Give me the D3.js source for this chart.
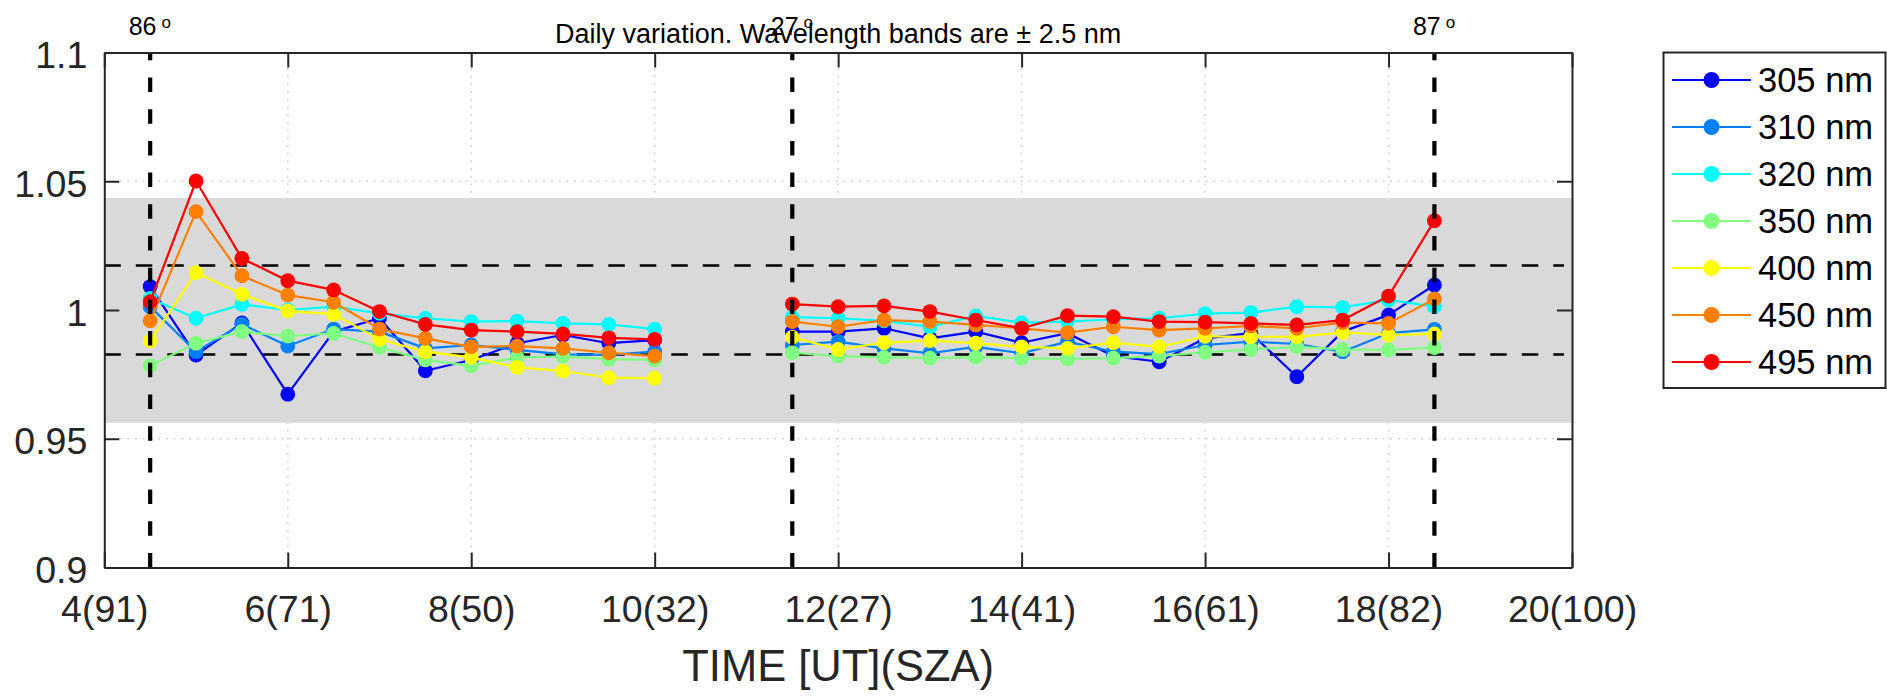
<!DOCTYPE html>
<html>
<head>
<meta charset="utf-8">
<script src="https://cdn.jsdelivr.net/npm/d3@7/dist/d3.min.js"></script>
<style>
  html, body { margin: 0; padding: 0; background: #fff; }
  svg { display: block; }
  text { font-family: "Liberation Sans", Arial, Helvetica, sans-serif; }
</style>
</head>
<body>
<svg id="chart" width="1887" height="700"></svg>
<script>
// ---------- data ----------
const times = [4.5, 5, 5.5, 6, 6.5, 7, 7.5, 8, 8.5, 9, 9.5, 10,
               11.5, 12, 12.5, 13, 13.5, 14, 14.5, 15, 15.5, 16, 16.5, 17, 17.5, 18, 18.5];

const seriesNames = ["305 nm", "310 nm", "320 nm", "350 nm", "400 nm", "450 nm", "495 nm"];
const seriesColors = ["#0000ff", "#0080ff", "#00ffff", "#80ff80", "#ffff00", "#ff8000", "#ff0000"];

const v305 = [1.0091, 0.9825, 0.9950, 0.9673, 0.9916, 0.9968, 0.9764, 0.9806, 0.9871, 0.9903, 0.9871, 0.9883,
              0.9916, 0.9916, 0.9929, 0.9890, 0.9916, 0.9873, 0.9910, 0.9821, 0.9799, 0.9890, 0.9910, 0.9741, 0.9916, 0.9981, 1.0097];
const v310 = [1.0013, 0.9838, 0.9945, 0.9860, 0.9926, 0.9916, 0.9851, 0.9864, 0.9845, 0.9828, 0.9826, 0.9838,
              0.9864, 0.9877, 0.9851, 0.9832, 0.9857, 0.9832, 0.9877, 0.9838, 0.9829, 0.9864, 0.9877, 0.9868, 0.9838, 0.9910, 0.9925];
const v320 = [1.0045, 0.9968, 1.0022, 1.0000, 1.0013, 0.9987, 0.9968, 0.9955, 0.9957, 0.9948, 0.9944, 0.9926,
              0.9972, 0.9968, 0.9958, 0.9935, 0.9977, 0.9951, 0.9955, 0.9964, 0.9968, 0.9986, 0.9990, 1.0013, 1.0010, 1.0039, 1.0013];
const v350 = [0.9784, 0.9871, 0.9916, 0.9899, 0.9909, 0.9855, 0.9806, 0.9783, 0.9816, 0.9819, 0.9809, 0.9806,
              0.9834, 0.9821, 0.9816, 0.9813, 0.9816, 0.9813, 0.9810, 0.9813, 0.9821, 0.9836, 0.9847, 0.9857, 0.9847, 0.9845, 0.9854];
const v400 = [0.9880, 1.0145, 1.0061, 0.9996, 0.9984, 0.9886, 0.9838, 0.9816, 0.9777, 0.9763, 0.9737, 0.9735,
              0.9894, 0.9847, 0.9873, 0.9881, 0.9871, 0.9857, 0.9851, 0.9873, 0.9857, 0.9898, 0.9896, 0.9896, 0.9913, 0.9903, 0.9907];
const v450 = [0.9958, 1.0382, 1.0133, 1.0058, 1.0030, 0.9926, 0.9890, 0.9857, 0.9860, 0.9851, 0.9834, 0.9821,
              0.9955, 0.9935, 0.9961, 0.9955, 0.9942, 0.9929, 0.9912, 0.9935, 0.9922, 0.9929, 0.9938, 0.9929, 0.9951, 0.9948, 1.0043];
const v495 = [1.0032, 1.0501, 1.0200, 1.0114, 1.0078, 0.9994, 0.9944, 0.9922, 0.9916, 0.9907, 0.9892, 0.9886,
              1.0023, 1.0013, 1.0016, 0.9994, 0.9961, 0.9929, 0.9978, 0.9974, 0.9955, 0.9953, 0.9948, 0.9942, 0.9961, 1.0054, 1.0347];
const seriesValues = [v305, v310, v320, v350, v400, v450, v495];

const xTickValues = [4, 6, 8, 10, 12, 14, 16, 18, 20];
const xTickLabels = ["4(91)", "6(71)", "8(50)", "10(32)", "12(27)", "14(41)", "16(61)", "18(82)", "20(100)"];
const yTickValues = [0.9, 0.95, 1, 1.05, 1.1];
const yTickLabels = ["0.9", "0.95", "1", "1.05", "1.1"];

const szaLineTimes = [4.5, 11.5, 18.5];
const szaLineLabels = ["86", "27", "87"];
const refLines = [1.0173, 0.9827];
const bandRange = [0.9562, 1.0435];

const titleText = "Daily variation. Wavelength bands are \u00b1 2.5 nm";
const xAxisTitle = "TIME [UT](SZA)";

// ---------- layout ----------
const svg = d3.select("#chart");
const L = 104.3, R = 1572, T = 52.5, B = 567.5;
const x = d3.scaleLinear().domain([4, 20]).range([L, R]);
const y = d3.scaleLinear().domain([0.9, 1.1]).range([B, T]);
const axisColor = "#262626";

// grid
const grid = svg.append("g");
grid.selectAll("line.gx").data(xTickValues.slice(1, -1)).enter().append("line")
  .attr("x1", d => x(d)).attr("x2", d => x(d)).attr("y1", T).attr("y2", B)
  .attr("stroke", "#d2d2d2").attr("stroke-width", 1.5).attr("stroke-dasharray", "2,5.7");
grid.selectAll("line.gy").data(yTickValues.slice(1, -1)).enter().append("line")
  .attr("x1", L).attr("x2", R).attr("y1", d => y(d)).attr("y2", d => y(d))
  .attr("stroke", "#d2d2d2").attr("stroke-width", 1.5).attr("stroke-dasharray", "2,5.7");

// gray band
svg.append("rect")
  .attr("x", L).attr("width", R - L)
  .attr("y", y(bandRange[1])).attr("height", y(bandRange[0]) - y(bandRange[1]))
  .attr("fill", "#d9d9d9");

// horizontal reference dashed lines
svg.selectAll("line.ref").data(refLines).enter().append("line")
  .attr("x1", L).attr("x2", R - 8).attr("y1", d => y(d)).attr("y2", d => y(d))
  .attr("stroke", "#000").attr("stroke-width", 2.6).attr("stroke-dasharray", "16.5,15");

// data
const segments = [];
let cur = [0];
for (let i = 1; i < times.length; i++) {
  if (times[i] - times[i - 1] > 0.75) { segments.push(cur); cur = []; }
  cur.push(i);
}
segments.push(cur);

const line = d3.line().x(d => x(d[0])).y(d => y(d[1]));
seriesValues.forEach((vals, si) => {
  const g = svg.append("g");
  segments.forEach(seg => {
    const pts = seg.map(i => [times[i], vals[i]]);
    g.append("path").attr("d", line(pts)).attr("fill", "none")
      .attr("stroke", seriesColors[si]).attr("stroke-width", 2.2).attr("stroke-linejoin", "round");
  });
  g.selectAll("circle").data(times.map((t, i) => [t, vals[i]])).enter().append("circle")
    .attr("cx", d => x(d[0])).attr("cy", d => y(d[1])).attr("r", 7.4)
    .attr("fill", seriesColors[si]);
});

// vertical SZA lines
svg.selectAll("line.sza").data(szaLineTimes).enter().append("line")
  .attr("x1", d => x(d)).attr("x2", d => x(d)).attr("y1", B).attr("y2", T)
  .attr("stroke", "#000").attr("stroke-width", 4.2).attr("stroke-dasharray", "14.5,17.2");

// SZA labels
szaLineTimes.forEach((t, i) => {
  const tx = svg.append("text").attr("x", x(t) - 21.5).attr("y", 34.5)
    .attr("font-size", 25).attr("fill", "#000");
  tx.append("tspan").text(szaLineLabels[i]);
  tx.append("tspan").attr("dx", 5).attr("dy", -7).attr("font-size", 17).text("o");
});

// axes
const fmtX = d => xTickLabels[xTickValues.indexOf(d)];
const fmtY = d => yTickLabels[yTickValues.indexOf(d)];
function styleAxis(g) {
  g.select(".domain").attr("stroke", axisColor).attr("stroke-width", 2);
  g.selectAll(".tick line").attr("stroke", axisColor).attr("stroke-width", 2);
}
const gB = svg.append("g").attr("transform", `translate(0,${B})`)
  .call(d3.axisBottom(x).tickValues(xTickValues).tickFormat(fmtX).tickSizeInner(-15).tickSizeOuter(0));
styleAxis(gB);
gB.selectAll(".tick text").attr("y", 54.5).attr("dy", 0).attr("font-size", 37.5)
  .attr("fill", axisColor).attr("font-family", "Liberation Sans, Arial, sans-serif");

const gT = svg.append("g").attr("transform", `translate(0,${T})`)
  .call(d3.axisTop(x).tickValues(xTickValues).tickFormat("").tickSizeInner(-15).tickSizeOuter(0));
styleAxis(gT);

const gL = svg.append("g").attr("transform", `translate(${L},0)`)
  .call(d3.axisLeft(y).tickValues(yTickValues).tickFormat(fmtY).tickSizeInner(-15).tickSizeOuter(0));
styleAxis(gL);
gL.selectAll(".tick text").attr("x", -17).attr("dy", "0.4em").attr("font-size", 37.5)
  .attr("fill", axisColor).attr("font-family", "Liberation Sans, Arial, sans-serif");

const gR = svg.append("g").attr("transform", `translate(${R},0)`)
  .call(d3.axisRight(y).tickValues(yTickValues).tickFormat("").tickSizeInner(-15).tickSizeOuter(0));
styleAxis(gR);

// titles
svg.append("text").attr("x", (L + R) / 2).attr("y", 43).attr("text-anchor", "middle")
  .attr("font-size", 27).attr("fill", "#000").text(titleText);
svg.append("text").attr("x", (L + R) / 2).attr("y", 681).attr("text-anchor", "middle")
  .attr("font-size", 43.5).attr("fill", axisColor).text(xAxisTitle);

// legend
const lg = svg.append("g");
lg.append("rect").attr("x", 1663.5).attr("y", 52.5).attr("width", 222).attr("height", 335.5)
  .attr("fill", "#fff").attr("stroke", axisColor).attr("stroke-width", 2);
seriesNames.forEach((name, i) => {
  const cy = 80 + i * 47;
  lg.append("line").attr("x1", 1672).attr("x2", 1751).attr("y1", cy).attr("y2", cy)
    .attr("stroke", seriesColors[i]).attr("stroke-width", 2);
  lg.append("circle").attr("cx", 1711.5).attr("cy", cy).attr("r", 8).attr("fill", seriesColors[i]);
  lg.append("text").attr("x", 1758).attr("y", cy).attr("dy", "0.36em")
    .attr("font-size", 34.5).attr("fill", "#000").text(name);
});
</script>
</body>
</html>
